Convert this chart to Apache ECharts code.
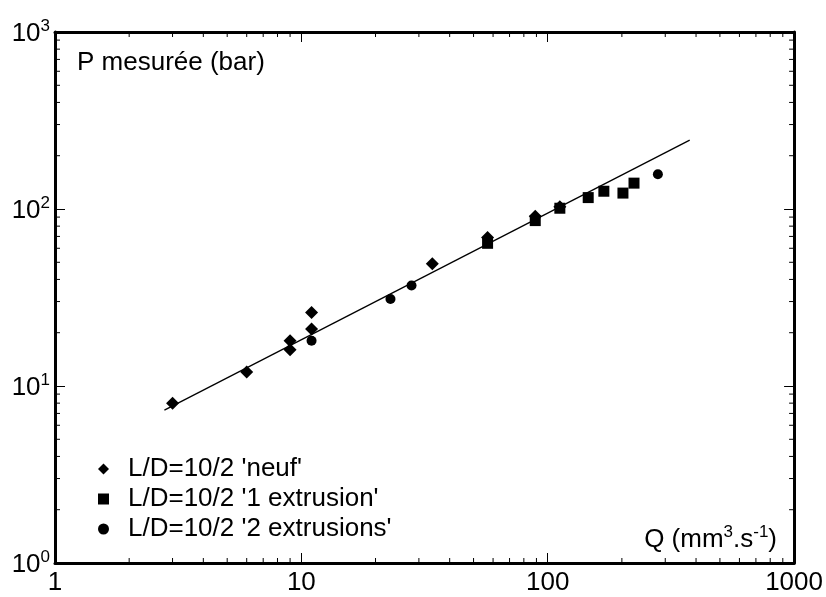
<!DOCTYPE html>
<html>
<head>
<meta charset="utf-8">
<script src="https://cdn.jsdelivr.net/npm/echarts@6/dist/echarts.min.js"></script>
<style>
  html, body { margin: 0; padding: 0; background: #fff; }
  #main { width: 826px; height: 597px; }
</style>
</head>
<body>
<div id="main"></div>
<script>
// données
const neufData = [[3, 8], [6, 12], [9, 18], [9, 16], [11, 26], [11, 21], [34, 49], [57, 69], [89, 91], [112, 103]];
const ext1Data = [[57, 64], [89, 86], [112, 101], [146, 116], [169, 126], [202, 123], [224, 140]];
const ext2Data = [[11, 18], [23, 31], [28, 37], [89, 89], [112, 102], [280, 157]];
const fitLine = [[2.78, 7.3], [377, 245]];

const seriesNames = ["L/D=10/2 'neuf'", "L/D=10/2 '1 extrusion'", "L/D=10/2 '2 extrusions'"];
const xTickLabels = ["1", "10", "100", "1000"];
const yTickExponents = ["0", "1", "2", "3"];
const decades = [1, 10, 100];

const FONT = "Arial, 'Liberation Sans', sans-serif";
const FS = 26;   // taille du texte
const FSUP = 17; // exposants

// petites graduations log (2..9 par décade)
const minorTicks = [];
decades.forEach(d => {
  for (let k = 2; k <= 9; k++) {
    minorTicks.push([d * k, 1, 0]); // axe x
    minorTicks.push([1, d * k, 1]); // axe y
  }
});

function renderMinor(params, api) {
  const cs = params.coordSys;
  const st = { stroke: "#000", lineWidth: 1 };
  const len = 5;
  if (api.value(2) === 0) {
    const px = api.coord([api.value(0), 1])[0];
    return {
      type: "group",
      children: [
        { type: "line", shape: { x1: px, y1: cs.y + cs.height, x2: px, y2: cs.y + cs.height - len }, style: st },
        { type: "line", shape: { x1: px, y1: cs.y, x2: px, y2: cs.y + len }, style: st }
      ]
    };
  }
  const py = api.coord([1, api.value(1)])[1];
  return {
    type: "group",
    children: [
      { type: "line", shape: { x1: cs.x, y1: py, x2: cs.x + len, y2: py }, style: st },
      { type: "line", shape: { x1: cs.x + cs.width, y1: py, x2: cs.x + cs.width - len, y2: py }, style: st }
    ]
  };
}

const axisLine = { show: true, lineStyle: { color: "#000", width: 3 } };
const majorTick = { show: true, inside: true, length: 10, lineStyle: { color: "#000", width: 1 } };
const supRich = {
  b: { fontSize: FS, color: "#000", fill: "#000", fontFamily: FONT, verticalAlign: "bottom" },
  s: { fontSize: FSUP, color: "#000", fill: "#000", fontFamily: FONT, verticalAlign: "bottom", padding: [0, 0, 12, 0] }
};

const chart = echarts.init(document.getElementById("main"));
chart.setOption({
  animation: false,
  textStyle: { fontFamily: FONT },
  grid: { left: 55, right: 29, top: 32, bottom: 34 },
  legend: {
    orient: "vertical",
    left: 93,
    top: 449,
    itemWidth: 11,
    itemHeight: 11,
    itemGap: 0,
    selectedMode: false,
    textStyle: { fontSize: FS, lineHeight: 30, color: "#000", fontFamily: FONT, padding: [0, 0, 0, 14] },
    data: [
      { name: seriesNames[0], icon: "diamond" },
      { name: seriesNames[1], icon: "rect" },
      { name: seriesNames[2], icon: "circle" }
    ]
  },
  xAxis: [
    {
      type: "log", logBase: 10, min: 1, max: 1000, position: "bottom",
      axisLine: axisLine, axisTick: majorTick, splitLine: { show: false },
      axisLabel: {
        color: "#000", fontSize: FS, margin: 7, fontFamily: FONT,
        formatter: (v, i) => xTickLabels[i]
      }
    },
    {
      type: "log", logBase: 10, min: 1, max: 1000, position: "top",
      axisLine: axisLine, axisTick: majorTick, splitLine: { show: false },
      axisLabel: { show: false }
    }
  ],
  yAxis: [
    {
      type: "log", logBase: 10, min: 1, max: 1000, position: "left",
      axisLine: axisLine, axisTick: majorTick, splitLine: { show: false },
      axisLabel: {
        color: "#000", margin: 5, fontFamily: FONT,
        formatter: (v, i) => "{b|10}{s|" + yTickExponents[i] + "}",
        rich: supRich
      }
    },
    {
      type: "log", logBase: 10, min: 1, max: 1000, position: "right",
      axisLine: axisLine, axisTick: majorTick, splitLine: { show: false },
      axisLabel: { show: false }
    }
  ],
  graphic: [
    {
      type: "text", left: 77, top: 50,
      style: { text: "P mesurée (bar)", fontSize: FS, fill: "#000", fontFamily: FONT }
    },
    {
      type: "text", right: 49, top: 524,
      style: { text: "{b|Q (mm}{s|3}{b|.s}{s|-1}{b|)}", rich: supRich }
    }
  ],
  series: [
    {
      type: "custom", name: "minor", renderItem: renderMinor, data: minorTicks,
      xAxisIndex: 0, yAxisIndex: 0, silent: true, clip: false
    },
    {
      type: "line", name: "fit", data: fitLine, showSymbol: false, symbol: "none",
      lineStyle: { color: "#000", width: 1.3 }, silent: true
    },
    {
      type: "scatter", name: seriesNames[0], data: neufData, symbol: "diamond", symbolSize: 13,
      itemStyle: { color: "#000", opacity: 1 }
    },
    {
      type: "scatter", name: seriesNames[1], data: ext1Data, symbol: "rect", symbolSize: 11,
      itemStyle: { color: "#000", opacity: 1 }
    },
    {
      type: "scatter", name: seriesNames[2], data: ext2Data, symbol: "circle", symbolSize: 10,
      itemStyle: { color: "#000", opacity: 1 }
    }
  ]
});
</script>
</body>
</html>
